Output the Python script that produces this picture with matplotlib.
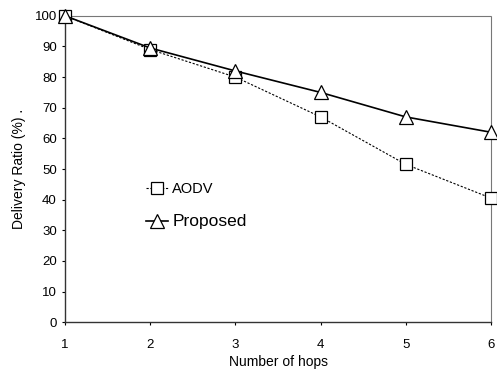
import matplotlib
matplotlib.use("Agg")
import matplotlib.pyplot as plt

plt.rcParams["font.family"] = ["Liberation Sans", "DejaVu Sans"]

hops = [1, 2, 3, 4, 5, 6]
aodv = [100, 89, 80, 67, 51.5, 40.5]
proposed = [100, 89.5, 82, 75, 67, 62]

fig = plt.figure(figsize=(4.97, 3.69), dpi=100)
ax = fig.add_axes([0.131, 0.127, 0.857, 0.830])

ax.plot(hops, aodv, color="black", linewidth=0.8, linestyle=(0, (2, 1.5)),
        marker="s", markersize=8, markerfacecolor="white", markeredgecolor="black",
        markeredgewidth=0.9, label="AODV", clip_on=False, zorder=3)
ax.plot(hops, proposed, color="black", linewidth=1.2, linestyle="-",
        marker="^", markersize=10, markerfacecolor="white", markeredgecolor="black",
        markeredgewidth=0.9, label="Proposed", clip_on=False, zorder=4)

ax.set_xlim(1, 6)
ax.set_ylim(0, 100)
ax.set_xticks(hops)
ax.set_yticks(range(0, 101, 10))
ax.tick_params(axis="x", length=2, pad=10, labelsize=9.5)
ax.tick_params(axis="y", length=2, pad=4, labelsize=9.5)

for side in ["top", "right"]:
    ax.spines[side].set_linestyle((0, (1, 1)))
    ax.spines[side].set_color("#777777")
    ax.spines[side].set_linewidth(0.8)
for side in ["left", "bottom"]:
    ax.spines[side].set_color("#333333")
    ax.spines[side].set_linewidth(1.0)

ax.set_xlabel("Number of hops", fontsize=10, labelpad=3)
ax.set_ylabel("Delivery Ratio (%) .", fontsize=10, labelpad=6)

leg = ax.legend(loc="upper left", bbox_to_anchor=(0.16, 0.50), frameon=False,
                handlelength=1.6, handletextpad=0.3, labelspacing=1.35)
leg.get_texts()[0].set_fontsize(10.5)
leg.get_texts()[1].set_fontsize(12.5)

fig.savefig("out.png", dpi=100)
